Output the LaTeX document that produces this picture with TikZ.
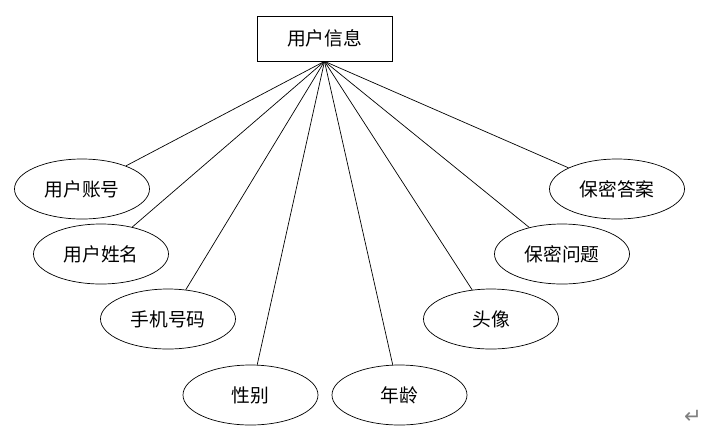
\documentclass[tikz,border=0pt]{standalone}
\usepackage{fontspec}
\setmainfont{Noto Sans CJK SC}
\newfontfamily\symfont{DejaVu Sans}
\usepackage{tikz}
\usetikzlibrary{shapes.geometric}
\tikzstyle{entity} = [rectangle, minimum width=4.05cm, minimum
height=1.35cm, text centered, draw=black, line width=0.6pt, font=\fontsize{16}{19}\selectfont]
\tikzstyle{attribute} = [ellipse, minimum width=4.05cm, minimum
height=1.8cm, inner sep=0pt, text centered, draw=black, line width=0.6pt,
font=\fontsize{16}{19}\selectfont]
\tikzstyle{line} = [line width=0.6pt]
\begin{document}
\begin{tikzpicture}[x=0.03cm, y=-0.03cm]
\useasboundingbox (0,0) rectangle (704,438);

\node(info)[entity] at (324.5,38.5){用户信息};

\node(account)[attribute] at (82,189){用户账号};
\node(username)[attribute] at (101,254){用户姓名};
\node(phone)[attribute] at (168,319){手机号码};
\node(gender)[attribute] at (250.5,395){性别};
\node(age)[attribute] at (399.5,395){年龄};
\node(avatar)[attribute] at (491,319){头像};
\node(question)[attribute] at (562,254){保密问题};
\node(answer)[attribute] at (617,189){保密答案};

\node(mark)[text=gray, inner sep=0pt, font=\symfont\fontsize{18}{20}\selectfont] at (693,417){↵};

\draw[line](info.south) -- (account);
\draw[line](info.south) -- (username);
\draw[line](info.south) -- (phone);
\draw[line](info.south) -- (gender);
\draw[line](info.south) -- (age);
\draw[line](info.south) -- (avatar);
\draw[line](info.south) -- (question);
\draw[line](info.south) -- (answer);

\end{tikzpicture}
\end{document}
